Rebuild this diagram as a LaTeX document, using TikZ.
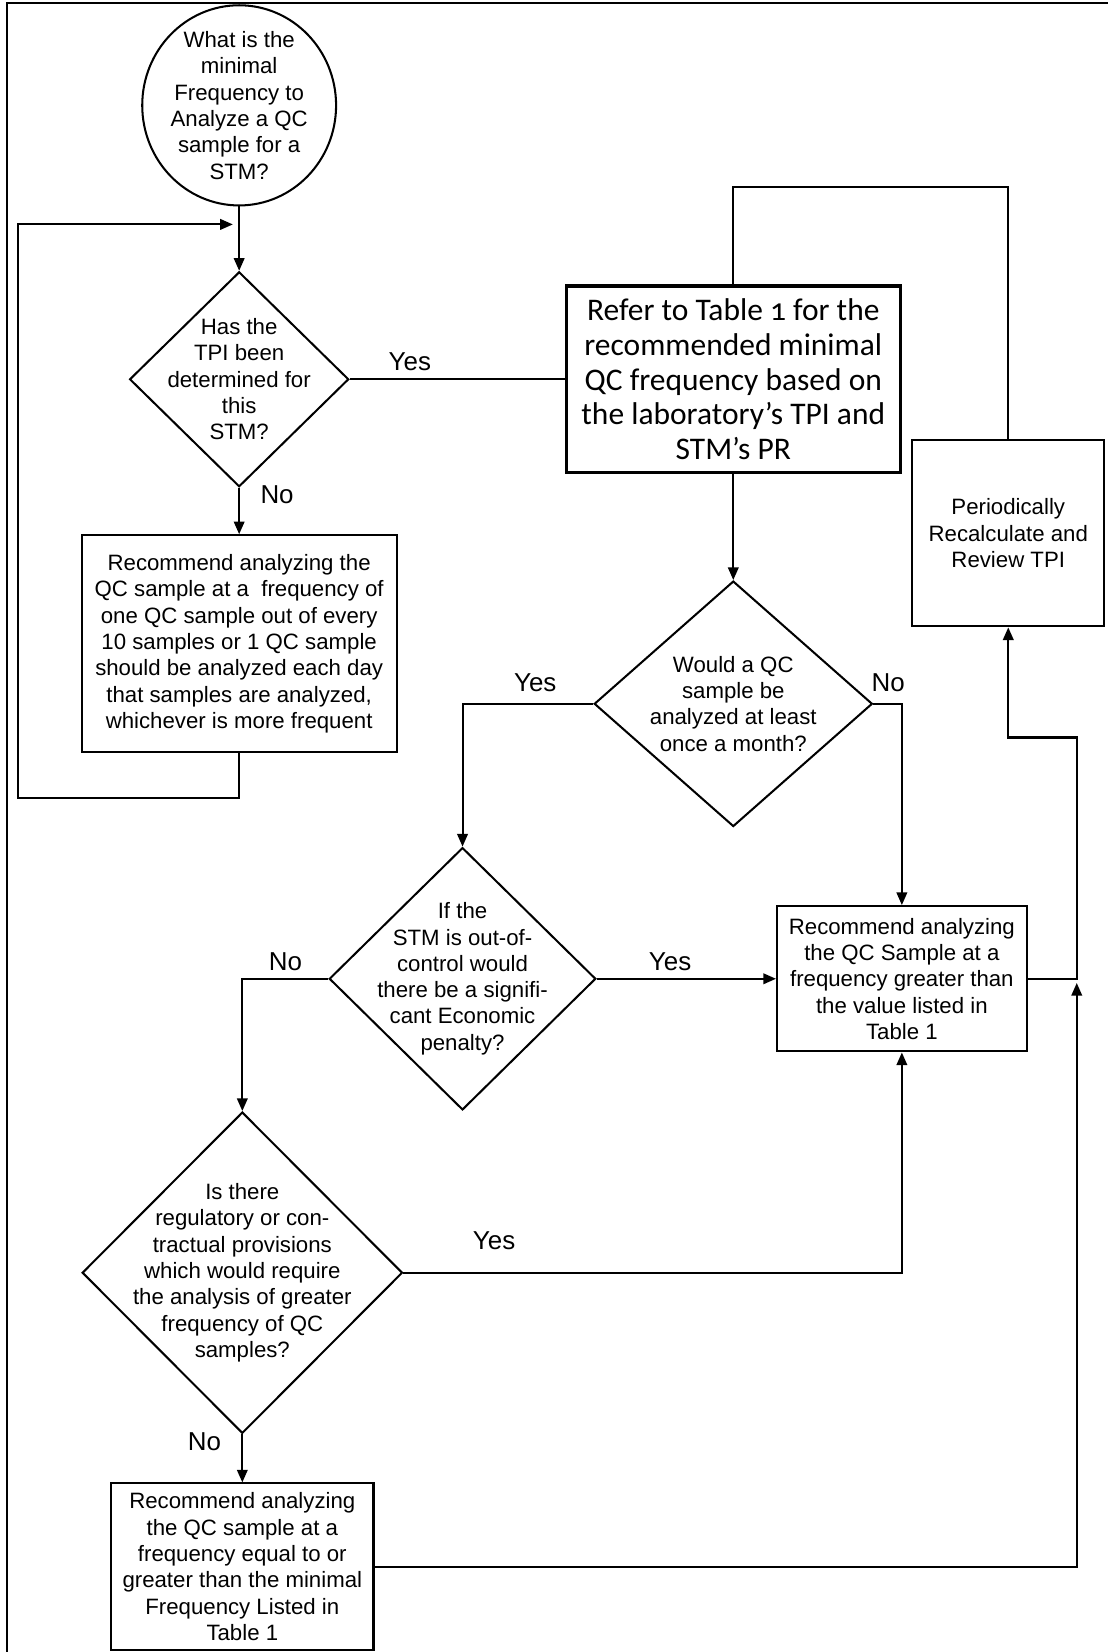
\documentclass[tikz,border=0pt]{standalone}
\usepackage{fontspec}
\setmainfont{Liberation Sans}
\newfontfamily\calfont[Numbers=OldStyle]{Carlito}
\usetikzlibrary{shapes.geometric,arrows.meta}

\tikzset{
  box/.style={draw, line width=1.1pt, rectangle, inner sep=0pt, align=center},
  dia/.style={draw, line width=1.1pt, diamond, inner sep=0pt},
  txt/.style={align=center, inner sep=0pt},
  lab/.style={font=\fontsize{14}{16}\selectfont},
  con/.style={line width=1.1pt},
}

\begin{document}
\begin{tikzpicture}[x=0.2mm, y=-0.2mm, font=\fontsize{12}{14.2}\selectfont, >={Triangle[length=2.4mm,width=2mm]}]
    \useasboundingbox (0,0) rectangle (1052,1568);
    \draw[line width=1.1pt] (7,1568) -- (7,3) -- (1052,3);
    % start
    \node[draw, ellipse, line width=1.1pt, minimum width=3.68cm, minimum height=3.8cm, inner sep=0pt] (start) at (227,100) {};
    \node[txt] at (start) {What is the\\minimal\\Frequency to\\Analyze a QC\\sample for a\\STM?};
    % left column
    \node[dia, minimum width=4.16cm, minimum height=4.08cm] (d1) at (227,360) {};
    \node[txt] at (d1) {Has the\\TPI been\\determined for\\this\\STM?};
    \node[box, minimum width=5.98cm, minimum height=4.12cm] (b1) at (227,611) {Recommend analyzing the\\QC sample at a\ \ frequency of\\one QC sample out of every\\10 samples or 1 QC sample\\should be analyzed each day\\that samples are analyzed,\\whichever is more frequent};
    % right column
    \node[box, line width=1.8pt, minimum width=6.34cm, minimum height=3.54cm, font=\calfont\fontsize{17}{18.8}\selectfont] (ref) at (696,360) {Refer to Table 1 for the\\recommended minimal\\QC frequency based on\\the laboratory’s TPI and\\STM’s PR};
    \node[box, minimum width=3.64cm, minimum height=3.54cm] (per) at (957,506) {Periodically\\Recalculate and\\Review TPI};
    \node[dia, minimum width=5.28cm, minimum height=4.66cm] (d2) at (696,668) {};
    \node[txt] at (d2) {Would a QC\\sample be\\analyzed at least\\once a month?};
    \node[dia, minimum width=5.06cm, minimum height=4.98cm] (d3) at (439,929) {};
    \node[txt] at (d3) {If the\\STM is out-of-\\control would\\there be a signifi-\\cant Economic\\penalty?};
    \node[box, minimum width=4.74cm, minimum height=2.76cm] (b2) at (856,929) {Recommend analyzing\\the QC Sample at a\\frequency greater than\\the value listed in\\Table 1};
    \node[dia, minimum width=6.08cm, minimum height=6.1cm] (d4) at (230,1208) {};
    \node[txt] at (d4) {Is there\\regulatory or con-\\tractual provisions\\which would require\\the analysis of greater\\frequency of QC\\samples?};
    \node[box, minimum width=4.98cm, minimum height=3.16cm] (b3) at (230,1487) {Recommend analyzing\\the QC sample at a\\frequency equal to or\\greater than the minimal\\Frequency Listed in\\Table 1};
    % corners
    \coordinate (loopA) at (17,757);
    \coordinate (loopB) at (221,213);
    \coordinate (backR) at (1022,700);
    \coordinate (backT) at (1022,933);
    % connectors
    \draw[con,->] (start.south) -- (d1.north);
    \draw[con,->] (b1.south) |- (loopA) |- (loopB);
    \draw[con] (d1.east) -- (ref.west);
    \draw[con,->] (d1.south) -- (b1.north);
    \draw[con] (ref.north) -- ++(0,-92) -| (per.north);
    \draw[con,->] (ref.south) -- (d2.north);
    \draw[con,->] (d2.west) -| (d3.north);
    \draw[con,->] (d2.east) -| (b2.north);
    \draw[con,->] (d3.east) -- (b2.west);
    \draw[con,->] (d3.west) -| (d4.north);
    \draw[con,->] (d4.east) -| (b2.south);
    \draw[con,->] (d4.south) -- (b3.north);
    \draw[con,->] (b2.east) -| (backR) -| (per.south);
    \draw[con,->] (b3.east) -| (backT);
    % labels
    \node[lab] (y1) at (389,343) {Yes};
    \node[lab] (n1) at (263,470) {No};
    \node[lab] (y2) at (508,648) {Yes};
    \node[lab] (n2) at (843,648) {No};
    \node[lab] (y3) at (636,913) {Yes};
    \node[lab] (n3) at (271,913) {No};
    \node[lab] (y4) at (469,1178) {Yes};
    \node[lab] (n4) at (194,1368) {No};
\end{tikzpicture}
\end{document}
